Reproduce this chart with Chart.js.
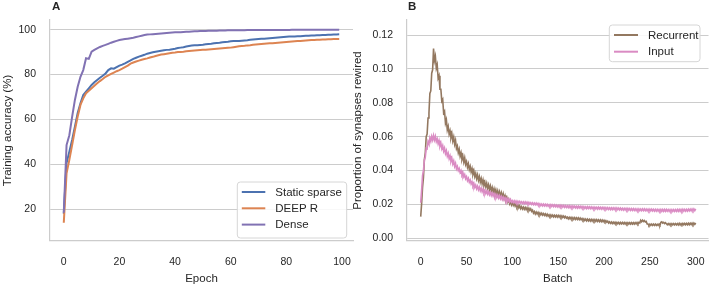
<!DOCTYPE html>
<html><head><meta charset="utf-8">
<script src="https://cdn.jsdelivr.net/npm/chart.js@4.4.0/dist/chart.umd.min.js"></script>
<style>
html,body{margin:0;padding:0;background:#fff;width:709px;height:284px;overflow:hidden;}
#ca{position:absolute;left:0;top:0;}
#cb{position:absolute;left:340px;top:0;}
.pl{position:absolute;font:bold 11.5px "Liberation Sans",Arial,sans-serif;color:#262626;line-height:12px;}
</style></head><body>
<canvas id="ca" width="355" height="284"></canvas>
<canvas id="cb" width="369" height="284"></canvas>
<div class="pl" style="left:52px;top:0px">A</div>
<div class="pl" style="left:408px;top:0px">B</div>
<script>
// ---------- Panel A data (epochs 0..99) ----------
const epochTicks = [0,20,40,60,80,100];
const accTicks = [20,40,60,80,100];
const staticSparse = [18.0,40.6,45.7,50.9,56.8,62.9,67.2,70.9,72.4,73.9,
75.4,76.6,77.6,78.6,79.5,80.5,82.0,82.8,82.6,83.3,
84.0,84.4,85.0,85.7,86.3,87.0,87.5,88.0,88.4,88.8,
89.3,89.6,89.9,90.2,90.4,90.6,90.8,91.0,91.1,91.3,
91.5,91.8,92.0,92.2,92.5,92.7,92.9,93.1,93.1,93.2,
93.3,93.5,93.6,93.7,93.9,94.1,94.2,94.4,94.5,94.6,
94.8,94.9,95.0,95.0,95.1,95.2,95.3,95.5,95.6,95.7,
95.8,95.9,96.0,96.1,96.2,96.3,96.4,96.5,96.6,96.7,
96.8,96.9,96.95,97.0,97.05,97.1,97.2,97.25,97.3,97.4,
97.45,97.5,97.55,97.6,97.65,97.7,97.75,97.8,97.85,97.9];
const deepR = [14.0,36.0,42.0,48.6,55.3,61.3,66.5,69.4,71.7,72.8,
73.9,75.0,76.1,77.1,78.0,79.0,79.6,80.3,80.9,81.5,
82.0,82.6,83.3,84.0,84.9,85.4,85.8,86.2,86.6,86.9,
87.2,87.6,87.9,88.3,88.6,88.9,89.1,89.3,89.5,89.7,
89.8,90.0,90.1,90.2,90.4,90.5,90.6,90.7,90.8,90.9,
91.0,91.1,91.2,91.3,91.4,91.5,91.6,91.7,91.8,91.9,
92.0,92.2,92.4,92.6,92.7,92.8,93.0,93.1,93.3,93.4,
93.5,93.6,93.7,93.8,93.9,94.0,94.1,94.2,94.3,94.4,
94.5,94.6,94.7,94.8,94.9,95.0,95.1,95.2,95.3,95.4,
95.4,95.5,95.5,95.6,95.6,95.7,95.7,95.8,95.8,95.8];
const dense = [18.5,48.6,53.0,61.2,68.7,74.6,79.0,82.0,87.3,87.0,
90.2,91.0,91.7,92.3,92.8,93.2,93.7,94.2,94.6,95.0,
95.4,95.6,95.8,96.0,96.2,96.4,96.7,97.0,97.3,97.6,
97.8,97.9,98.0,98.1,98.2,98.3,98.4,98.5,98.6,98.7,
98.8,98.85,98.9,99.0,99.05,99.1,99.2,99.25,99.3,99.35,
99.4,99.43,99.46,99.5,99.53,99.56,99.6,99.63,99.66,99.7,
99.71,99.72,99.74,99.75,99.77,99.78,99.8,99.81,99.83,99.85,
99.85,99.86,99.86,99.87,99.87,99.88,99.88,99.89,99.89,99.9,
99.9,99.9,99.91,99.91,99.91,99.92,99.92,99.92,99.93,99.93,
99.93,99.93,99.94,99.94,99.94,99.94,99.95,99.95,99.95,99.95];

// ---------- Panel B data (batches 0..300) ----------
const batchStep = 1;
const batchTicks = [0,50,100,150,200,250,300];
const propTicks = [0,0.02,0.04,0.06,0.08,0.10,0.12];
const recurrent = [
0.0128,0.0205,0.0300,0.0360,0.0465,0.0505,0.0600,0.0615,0.0710,0.0740,
0.0855,0.0870,0.0975,0.0995,0.1120,0.1050,0.1075,0.1005,0.1025,0.0945,
0.0960,0.0880,0.0880,0.0810,0.0820,0.0740,0.0750,0.0680,0.0700,0.0640,
0.0660,0.0615,0.0635,0.0595,0.0618,0.0575,0.0598,0.0555,0.0578,0.0530,
0.0545,0.0505,0.0525,0.0485,0.0505,0.0466,0.0485,0.0450,0.0475,0.0436,
0.0453,0.0420,0.0440,0.0406,0.0425,0.0392,0.0412,0.0378,0.0398,0.0364,
0.0383,0.0352,0.0374,0.0342,0.0364,0.0332,0.0353,0.0322,0.0344,0.0312,
0.0332,0.0304,0.0325,0.0296,0.0316,0.0288,0.0309,0.0280,0.0300,0.0272,
0.0292,0.0265,0.0286,0.0259,0.0280,0.0253,0.0274,0.0247,0.0268,0.0241,
0.0262,0.0235,0.0252,0.0225,0.0240,0.0215,0.0230,0.0205,0.0220,0.0198,
0.0212,0.0195,0.0207,0.0190,0.0202,0.0185,0.0197,0.0180,0.0192,0.0175,
0.0186,0.0173,0.0184,0.0171,0.0182,0.0169,0.0180,0.0167,0.0178,0.0165,
0.0174,0.0159,0.0166,0.0149,0.0158,0.0144,0.0155,0.0143,0.0153,0.0140,
0.0150,0.0139,0.0148,0.0137,0.0146,0.0135,0.0144,0.0133,0.0142,0.0131,
0.0139,0.0129,0.0138,0.0128,0.0137,0.0127,0.0136,0.0126,0.0135,0.0125,
0.0135,0.0125,0.0134,0.0124,0.0133,0.0123,0.0131,0.0121,0.0129,0.0119,
0.0125,0.0115,0.0124,0.0114,0.0123,0.0113,0.0122,0.0112,0.0122,0.0112,
0.0121,0.0111,0.0120,0.0110,0.0119,0.0109,0.0117,0.0107,0.0115,0.0105,
0.0113,0.0103,0.0113,0.0103,0.0112,0.0102,0.0112,0.0102,0.0111,0.0101,
0.0110,0.0100,0.0110,0.0100,0.0109,0.0099,0.0109,0.0099,0.0108,0.0098,
0.0106,0.0097,0.0104,0.0095,0.0101,0.0090,0.0097,0.0088,0.0096,0.0087,
0.0095,0.0087,0.0095,0.0086,0.0094,0.0086,0.0094,0.0085,0.0093,0.0085,
0.0093,0.0085,0.0093,0.0084,0.0092,0.0084,0.0092,0.0084,0.0092,0.0084,
0.0092,0.0084,0.0092,0.0084,0.0092,0.0085,0.0093,0.0085,0.0094,0.0090,
0.0106,0.0098,0.0107,0.0099,0.0105,0.0097,0.0100,0.0084,0.0084,0.0076,
0.0084,0.0076,0.0084,0.0076,0.0084,0.0076,0.0084,0.0076,0.0083,0.0076,
0.0084,0.0078,0.0094,0.0097,0.0090,0.0094,0.0087,0.0092,0.0086,0.0080,
0.0087,0.0079,0.0087,0.0079,0.0087,0.0079,0.0087,0.0079,0.0087,0.0079,
0.0087,0.0079,0.0088,0.0079,0.0087,0.0080,0.0088,0.0080,0.0088,0.0080,
0.0088,0.0080,0.0089,0.0080,0.0089,0.0081,0.0090,0.0081,0.0090,0.0082,
0.0090];
const input = [
0.0210,0.0285,0.0370,0.0400,0.0462,0.0478,0.0532,0.0528,0.0572,0.0558,
0.0592,0.0573,0.0602,0.0581,0.0607,0.0581,0.0602,0.0571,0.0587,0.0558,
0.0577,0.0545,0.0562,0.0530,0.0547,0.0515,0.0532,0.0500,0.0517,0.0485,
0.0502,0.0470,0.0487,0.0455,0.0472,0.0440,0.0457,0.0425,0.0442,0.0410,
0.0424,0.0400,0.0412,0.0388,0.0400,0.0376,0.0388,0.0364,0.0376,0.0352,
0.0364,0.0341,0.0354,0.0331,0.0344,0.0321,0.0334,0.0311,0.0324,0.0301,
0.0314,0.0293,0.0308,0.0287,0.0302,0.0281,0.0296,0.0275,0.0290,0.0269,
0.0283,0.0265,0.0279,0.0261,0.0275,0.0257,0.0271,0.0253,0.0267,0.0249,
0.0263,0.0245,0.0259,0.0241,0.0255,0.0237,0.0251,0.0233,0.0247,0.0229,
0.0243,0.0226,0.0239,0.0222,0.0235,0.0219,0.0232,0.0216,0.0229,0.0213,
0.0222,0.0211,0.0221,0.0210,0.0220,0.0209,0.0219,0.0208,0.0218,0.0207,
0.0215,0.0205,0.0215,0.0204,0.0214,0.0204,0.0213,0.0203,0.0212,0.0202,
0.0210,0.0200,0.0209,0.0199,0.0208,0.0198,0.0207,0.0197,0.0206,0.0195,
0.0203,0.0193,0.0202,0.0192,0.0202,0.0192,0.0201,0.0191,0.0200,0.0190,
0.0198,0.0188,0.0198,0.0188,0.0197,0.0187,0.0197,0.0187,0.0196,0.0186,
0.0195,0.0185,0.0195,0.0185,0.0194,0.0184,0.0194,0.0183,0.0193,0.0183,
0.0192,0.0182,0.0192,0.0181,0.0191,0.0181,0.0191,0.0181,0.0190,0.0180,
0.0189,0.0179,0.0189,0.0179,0.0188,0.0178,0.0188,0.0178,0.0187,0.0177,
0.0186,0.0176,0.0186,0.0176,0.0185,0.0175,0.0185,0.0175,0.0184,0.0174,
0.0184,0.0174,0.0183,0.0173,0.0183,0.0173,0.0182,0.0172,0.0182,0.0172,
0.0182,0.0172,0.0181,0.0171,0.0181,0.0171,0.0180,0.0170,0.0180,0.0170,
0.0180,0.0170,0.0179,0.0169,0.0179,0.0169,0.0178,0.0168,0.0178,0.0168,
0.0177,0.0167,0.0177,0.0167,0.0176,0.0166,0.0176,0.0166,0.0175,0.0165,
0.0175,0.0165,0.0175,0.0165,0.0174,0.0164,0.0174,0.0164,0.0174,0.0164,
0.0173,0.0163,0.0173,0.0163,0.0173,0.0163,0.0172,0.0162,0.0172,0.0162,
0.0172,0.0162,0.0172,0.0162,0.0171,0.0161,0.0171,0.0161,0.0171,0.0161,
0.0170,0.0160,0.0170,0.0160,0.0170,0.0160,0.0170,0.0160,0.0170,0.0160,
0.0169,0.0159,0.0169,0.0159,0.0169,0.0159,0.0169,0.0159,0.0169,0.0159,
0.0170,0.0160,0.0170,0.0160,0.0170,0.0160,0.0171,0.0161,0.0171,0.0161,
0.0171,0.0161,0.0172,0.0162,0.0172,0.0162,0.0173,0.0163,0.0173,0.0163,
0.0173];

// ---------- styling ----------
const FONT = '"Liberation Sans", Arial, Helvetica, sans-serif';
const TXT = '#262626';
const GRID = '#cccccc';
Chart.defaults.font.family = FONT;
Chart.defaults.color = TXT;

const boxLegend = {
  id: 'boxLegend',
  afterDraw(chart, args, o) {
    const ctx = chart.ctx;
    ctx.save();
    ctx.beginPath();
    const r = 3, x = o.x, y = o.y, w = o.w, h = o.h;
    ctx.moveTo(x + r, y);
    ctx.arcTo(x + w, y, x + w, y + h, r);
    ctx.arcTo(x + w, y + h, x, y + h, r);
    ctx.arcTo(x, y + h, x, y, r);
    ctx.arcTo(x, y, x + w, y, r);
    ctx.closePath();
    ctx.fillStyle = 'rgba(255,255,255,0.85)';
    ctx.fill();
    ctx.strokeStyle = '#d6d6d6';
    ctx.lineWidth = 1;
    ctx.stroke();
    ctx.font = '11.5px ' + FONT;
    ctx.textBaseline = 'middle';
    ctx.textAlign = 'left';
    chart.data.datasets.forEach((ds, i) => {
      const yy = o.y + o.first + i * o.gap;
      ctx.beginPath();
      ctx.strokeStyle = ds.borderColor;
      ctx.lineWidth = 2;
      ctx.moveTo(o.x + o.lx0, yy);
      ctx.lineTo(o.x + o.lx1, yy);
      ctx.stroke();
      ctx.fillStyle = TXT;
      ctx.fillText(ds.label, o.x + o.tx, yy + 0.5);
    });
    ctx.restore();
  }
};

function line(label, color, vals, step, order, width) {
  return {
    label, borderColor: color, backgroundColor: color, borderWidth: width,
    pointRadius: 0, tension: 0, order,
    data: vals.map((v, i) => ({ x: i * step, y: v }))
  };
}

function scales(o) {
  return {
    x: {
      type: 'linear', min: o.xmin, max: o.xmax,
      grid: { display: false, drawTicks: false },
      border: { display: true, color: GRID, width: 1.2 },
      ticks: { padding: 15, font: { size: 10.5 }, color: TXT },
      afterBuildTicks: s => { s.ticks = o.xt.map(v => ({ value: v })); },
      afterFit: s => { s.height = 43; s.paddingLeft = 0; s.paddingRight = 0; },
      title: { display: true, text: o.xtitle, font: { size: 11.5 }, color: TXT, padding: { top: 0, bottom: -2 } }
    },
    y: {
      type: 'linear', min: o.ymin, max: o.ymax,
      grid: { color: GRID, lineWidth: 1.1, drawTicks: false },
      border: { display: true, color: GRID, width: 1.2 },
      ticks: { padding: 14, font: { size: 10.5 }, color: TXT, callback: o.fmt },
      afterBuildTicks: s => { s.ticks = o.yt.map(v => ({ value: v })); },
      afterFit: s => { s.width = o.yw; s.paddingTop = 0; s.paddingBottom = 0; },
      title: { display: true, text: o.ytitle, font: { size: 11.5 }, color: TXT, padding: { top: o.tp, bottom: 0 } }
    }
  };
}

new Chart(document.getElementById('ca'), {
  type: 'line',
  data: { datasets: [
    line('Static sparse', '#4c72b0', staticSparse, 1, 3, 2),
    line('DEEP R', '#dd8452', deepR, 1, 2, 2),
    line('Dense', '#8172b3', dense, 1, 1, 2)
  ] },
  options: {
    responsive: false, animation: false, devicePixelRatio: 1,
    layout: { padding: { top: 20, right: 2, left: 0, bottom: 0 } },
    plugins: { legend: { display: false }, tooltip: { enabled: false },
      boxLegend: { x: 237.3, y: 182, w: 109.4, h: 56, first: 10, gap: 16.3, lx0: 4.5, lx1: 28, tx: 38 } },
    scales: scales({ xmin: -4.95, xmax: 103.95, ymin: 5.9, ymax: 104.3, xt: epochTicks, yt: accTicks,
      xtitle: 'Epoch', ytitle: 'Training accuracy (%)', yw: 50, tp: 1, fmt: v => String(v) })
  },
  plugins: [boxLegend]
});

new Chart(document.getElementById('cb'), {
  type: 'line',
  data: { datasets: [
    line('Recurrent', '#937860', recurrent, batchStep, 2, 1.6),
    line('Input', '#da8bc3', input, batchStep, 1, 1.6)
  ] },
  options: {
    responsive: false, animation: false, devicePixelRatio: 1,
    layout: { padding: { top: 20, right: 0.5, left: 0, bottom: 0 } },
    plugins: { legend: { display: false }, tooltip: { enabled: false },
      boxLegend: { x: 269.3, y: 25, w: 90.7, h: 36.7, first: 10, gap: 16.7, lx0: 4.7, lx1: 28.7, tx: 38.7 } },
    scales: scales({ xmin: -14.95, xmax: 313.95, ymin: -0.0016, ymax: 0.1289, xt: batchTicks, yt: propTicks,
      xtitle: 'Batch', ytitle: 'Proportion of synapses rewired', yw: 67, tp: 11, fmt: v => v.toFixed(2) })
  },
  plugins: [boxLegend]
});
</script>
</body></html>
